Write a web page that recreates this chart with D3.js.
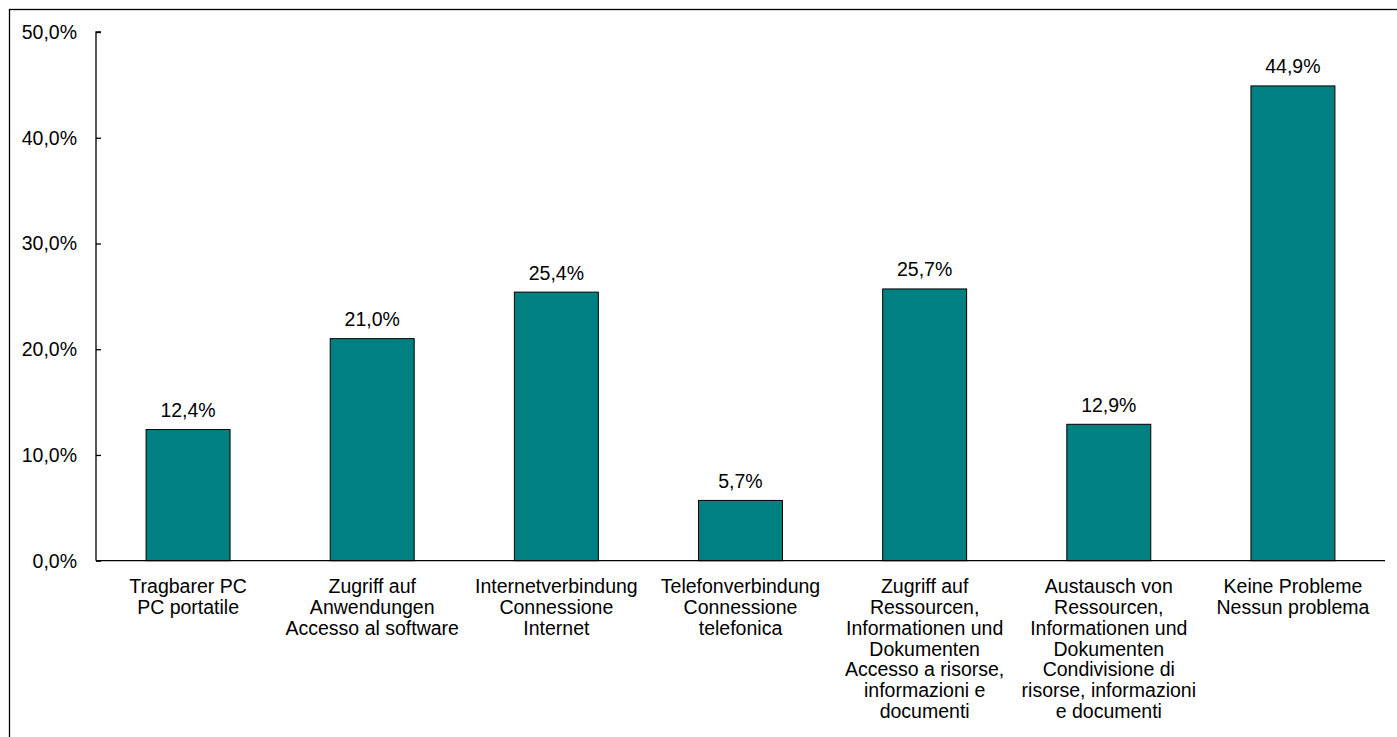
<!DOCTYPE html>
<html><head><meta charset="utf-8">
<script src="https://cdn.jsdelivr.net/npm/d3@7"></script>
<style>body{margin:0;background:#fff}svg{display:block}text{font-family:"Liberation Sans",Arial,sans-serif;fill:#000}</style>
</head><body>
<svg id="c" width="1397" height="737"></svg>
<script>
const categories = [
  ["Tragbarer PC","PC portatile"],
  ["Zugriff auf","Anwendungen","Accesso al software"],
  ["Internetverbindung","Connessione","Internet"],
  ["Telefonverbindung","Connessione","telefonica"],
  ["Zugriff auf","Ressourcen,","Informationen und","Dokumenten","Accesso a risorse,","informazioni e","documenti"],
  ["Austausch von","Ressourcen,","Informationen und","Dokumenten","Condivisione di","risorse, informazioni","e documenti"],
  ["Keine Probleme","Nessun problema"]
];
const values = [12.4, 21.0, 25.4, 5.7, 25.7, 12.9, 44.9];
const yTicks = [0, 10, 20, 30, 40, 50];

const fmt = v => d3.format(".1f")(v).replace(".", ",") + "%";
const svg = d3.select("#c");
const fs = "19.5px";

svg.append("rect").attr("x",9.5).attr("y",9.5).attr("width",1400).attr("height",740)
  .attr("fill","none").attr("stroke","#000").attr("stroke-width",1.3);

const x = d3.scaleBand().domain(d3.range(values.length)).range([96, 1385]).paddingInner(0.544).paddingOuter(0.272);
const y = d3.scaleLinear().domain([0, 50]).range([560.7, 32]);

// y axis
const ya = svg.append("g").attr("transform","translate(96,0)")
  .call(d3.axisRight(y).tickValues(yTicks).tickSize(5).tickFormat(""));
ya.select(".domain").attr("stroke","#000").attr("stroke-width",1.3).attr("d",`M5,${y(50)}H0V${y(0)}`);
ya.selectAll(".tick line").attr("stroke","#000").attr("stroke-width",1.3);
svg.append("g").selectAll("text").data(yTicks).join("text")
  .attr("x",77).attr("y",d=>y(d)+7).attr("text-anchor","end").style("font-size",fs).text(fmt);

// bars
svg.append("g").selectAll("rect").data(values).join("rect")
  .attr("x",(d,i)=>x(i)).attr("width",x.bandwidth())
  .attr("y",d=>y(d)).attr("height",d=>y(0)-y(d))
  .attr("fill","#008080").attr("stroke","#000").attr("stroke-width",1);

// value labels
svg.append("g").selectAll("text").data(values).join("text")
  .attr("x",(d,i)=>x(i)+x.bandwidth()/2).attr("y",d=>y(d)-12.6)
  .attr("text-anchor","middle").style("font-size",fs).text(fmt);

// x axis line
svg.append("line").attr("x1",96).attr("x2",1385).attr("y1",y(0)).attr("y2",y(0))
  .attr("stroke","#000").attr("stroke-width",1.3);

// category labels
const cl = svg.append("g").selectAll("text").data(categories).join("text")
  .attr("text-anchor","middle").style("font-size",fs)
  .attr("transform",(d,i)=>`translate(${x(i)+x.bandwidth()/2},${y(0)+32.6})`);
cl.selectAll("tspan").data(d=>d).join("tspan")
  .attr("x",0).attr("y",(d,j)=>j*20.8).text(d=>d);
</script>
</body></html>
